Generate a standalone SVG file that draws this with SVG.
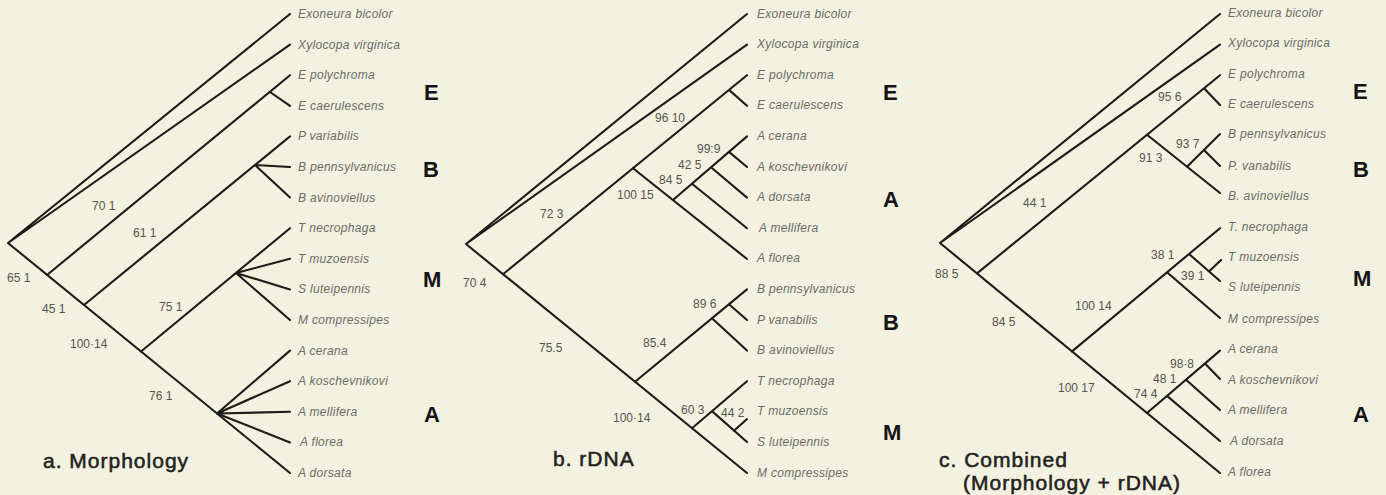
<svg xmlns="http://www.w3.org/2000/svg" width="1386" height="495" viewBox="0 0 1386 495">
<style>
.br{fill:none;stroke:#1c1c18;stroke-width:2.1;stroke-linecap:round;stroke-linejoin:round}
.sp{font-family:"Liberation Sans",Arial,sans-serif;font-style:italic;font-size:12px;fill:#6c6c68;letter-spacing:0.3px;white-space:pre}
.nm{font-family:"Liberation Sans",Arial,sans-serif;font-size:12px;fill:#56564f}
.cl{font-family:"Liberation Sans",Arial,sans-serif;font-weight:bold;font-size:22px;fill:#141414}
.tt{font-family:"Liberation Sans",Arial,sans-serif;font-size:21px;fill:#222220;stroke:#222220;stroke-width:0.55px;letter-spacing:1px;white-space:pre}
</style>
<rect width="1386" height="495" fill="#f3f1df"/>
<g id="connectors" class="br">
<path d="M8,243 L290,14 M8,243 L290,44.6 M8,243 L290,473"/>
<path d="M47,275 L290,75.2 M270,92 L290,105.8"/>
<path d="M84,305 L290,136.4 M255,165 L290,167 M255,165 L290,197.6"/>
<path d="M141,351.5 L290,228.2 M236,273 L290,258.8 M236,273 L290,289.4 M236,273 L290,320"/>
<path d="M217,413.5 L290,350.6 M217,413.5 L290,381.2 M217,413.5 L290,411.8 M217,413.5 L290,442.4"/>
<path d="M466,244 L747,14 M466,244 L747,44.6 M466,244 L747,473"/>
<path d="M503,274.2 L747,75.2 M729,89.9 L747,105.8"/>
<path d="M633,168.2 L747,259 M673,200 L747,136.4 M692,183.7 L747,228.2 M711,167.3 L747,197.6 M729,151.9 L747,167"/>
<path d="M635,381.7 L747,289.4 M712,318.3 L747,350.6 M729,304.2 L747,320"/>
<path d="M692,428.2 L747,381.2 M712,411.1 L747,442 M734,430.8 L747,419"/>
<path d="M940,243 L1220,14 M940,243 L1220,44.6 M940,243 L1220,473"/>
<path d="M977,273.4 L1220,75.2 M1204,88.3 L1220,105"/>
<path d="M1147,134.8 L1220,193 M1187,166.7 L1220,134 M1204,150 L1220,166"/>
<path d="M1072,351.4 L1220,228.2 M1167,272.3 L1220,318 M1189,254 L1220,281 M1209,271.4 L1221,260"/>
<path d="M1147,413 L1220,350.6 M1167,395.9 L1220,441 M1186,379.7 L1220,410 M1205,363.4 L1220,379"/>
</g>
<g id="support-labels" class="nm">
<text x="92" y="210">70 1</text>
<text x="133" y="237">61 1</text>
<text x="7" y="282">65 1</text>
<text x="42" y="313">45 1</text>
<text x="70" y="348">100·14</text>
<text x="159" y="311">75 1</text>
<text x="149" y="400">76 1</text>
<text x="655" y="122">96 10</text>
<text x="540" y="218">72 3</text>
<text x="697" y="153">99:9</text>
<text x="678" y="169">42 5</text>
<text x="659" y="184">84 5</text>
<text x="617" y="199">100 15</text>
<text x="463" y="287">70 4</text>
<text x="539" y="352">75.5</text>
<text x="643" y="347">85.4</text>
<text x="693" y="308">89 6</text>
<text x="613" y="422">100·14</text>
<text x="681" y="414">60 3</text>
<text x="721" y="417">44 2</text>
<text x="1158" y="101">95 6</text>
<text x="1176" y="148">93 7</text>
<text x="1139" y="162">91 3</text>
<text x="1023" y="207">44 1</text>
<text x="935" y="278">88 5</text>
<text x="992" y="326">84 5</text>
<text x="1075" y="310">100 14</text>
<text x="1151" y="259">38 1</text>
<text x="1181" y="280">39 1</text>
<text x="1170" y="368">98·8</text>
<text x="1153" y="383">48 1</text>
<text x="1134" y="398">74 4</text>
<text x="1058" y="392">100 17</text>
</g>
<g id="panel-a-taxa" class="sp" xml:space="preserve">
<g id="a-exoneura"><text x="298" y="18">Exoneura bicolor</text></g>
<g id="a-xylocopa"><text x="298" y="48.6">Xylocopa virginica</text></g>
<g id="a-epoly"><text x="298" y="79.2">E  polychroma</text></g>
<g id="a-ecaer"><text x="298" y="109.8">E  caerulescens</text></g>
<g id="a-pvar"><text x="298" y="140.4">P  variabilis</text></g>
<g id="a-bpenn"><text x="298" y="171">B  pennsylvanicus</text></g>
<g id="a-bavin"><text x="298" y="201.6">B  avinoviellus</text></g>
<g id="a-tnec"><text x="298" y="232.2">T  necrophaga</text></g>
<g id="a-tmuz"><text x="298" y="262.8">T  muzoensis</text></g>
<g id="a-slut"><text x="298" y="293.4">S  luteipennis</text></g>
<g id="a-mcomp"><text x="298" y="324">M  compressipes</text></g>
<g id="a-acer"><text x="298" y="354.6">A  cerana</text></g>
<g id="a-akos"><text x="298" y="385.2">A  koschevnikovi</text></g>
<g id="a-amel"><text x="298" y="415.8">A  mellifera</text></g>
<g id="a-aflo"><text x="300" y="446.4">A  florea</text></g>
<g id="a-ador"><text x="298" y="477">A  dorsata</text></g>
</g>
<g id="panel-b-taxa" class="sp" xml:space="preserve">
<g id="b-exoneura"><text x="757" y="17.5">Exoneura bicolor</text></g>
<g id="b-xylocopa"><text x="757" y="48.1">Xylocopa virginica</text></g>
<g id="b-epoly"><text x="757" y="78.7">E  polychroma</text></g>
<g id="b-ecaer"><text x="757" y="109.3">E  caerulescens</text></g>
<g id="b-acer"><text x="757" y="139.9">A  cerana</text></g>
<g id="b-akos"><text x="757" y="170.5">A  koschevnikovi</text></g>
<g id="b-ador"><text x="757" y="201.1">A  dorsata</text></g>
<g id="b-amel"><text x="759" y="231.7">A  mellifera</text></g>
<g id="b-aflo"><text x="757" y="262.3">A  florea</text></g>
<g id="b-bpenn"><text x="757" y="292.9">B  pennsylvanicus</text></g>
<g id="b-pvar"><text x="757" y="323.5">P  vanabilis</text></g>
<g id="b-bavin"><text x="757" y="354.1">B  avinoviellus</text></g>
<g id="b-tnec"><text x="757" y="384.7">T  necrophaga</text></g>
<g id="b-tmuz"><text x="757" y="415.3">T  muzoensis</text></g>
<g id="b-slut"><text x="757" y="445.9">S  luteipennis</text></g>
<g id="b-mcomp"><text x="757" y="476.5">M  compressipes</text></g>
</g>
<g id="panel-c-taxa" class="sp" xml:space="preserve">
<g id="c-exoneura"><text x="1228" y="16.5">Exoneura bicolor</text></g>
<g id="c-xylocopa"><text x="1228" y="47.1">Xylocopa virginica</text></g>
<g id="c-epoly"><text x="1228" y="77.7">E  polychroma</text></g>
<g id="c-ecaer"><text x="1228" y="108.3">E  caerulescens</text></g>
<g id="c-bpenn"><text x="1228" y="138.4">B  pennsylvanicus</text></g>
<g id="c-pvar"><text x="1228" y="169.5">P. vanabilis</text></g>
<g id="c-bavin"><text x="1228" y="200.1">B. avinoviellus</text></g>
<g id="c-tnec"><text x="1228" y="230.7">T. necrophaga</text></g>
<g id="c-tmuz"><text x="1228" y="261.3">T  muzoensis</text></g>
<g id="c-slut"><text x="1228" y="291.4">S  luteipennis</text></g>
<g id="c-mcomp"><text x="1228" y="322.5">M  compressipes</text></g>
<g id="c-acer"><text x="1228" y="353.1">A  cerana</text></g>
<g id="c-akos"><text x="1228" y="383.7">A  koschevnikovi</text></g>
<g id="c-amel"><text x="1228" y="414.3">A  mellifera</text></g>
<g id="c-ador"><text x="1230" y="444.9">A  dorsata</text></g>
<g id="c-aflo"><text x="1228" y="475.5">A  florea</text></g>
</g>
<g id="clade-letters" class="cl">
<g id="a-clade-E"><text x="424" y="100">E</text></g>
<g id="a-clade-B"><text x="423" y="177">B</text></g>
<g id="a-clade-M"><text x="423" y="287">M</text></g>
<g id="a-clade-A"><text x="424" y="422">A</text></g>
<g id="b-clade-E"><text x="883" y="100">E</text></g>
<g id="b-clade-A"><text x="883" y="207">A</text></g>
<g id="b-clade-B"><text x="883" y="330">B</text></g>
<g id="b-clade-M"><text x="883" y="440">M</text></g>
<g id="c-clade-E"><text x="1353" y="99">E</text></g>
<g id="c-clade-B"><text x="1353" y="177">B</text></g>
<g id="c-clade-M"><text x="1353" y="286">M</text></g>
<g id="c-clade-A"><text x="1353" y="422">A</text></g>
</g>
<g id="panel-titles" class="tt" xml:space="preserve">
<g id="title-a"><text x="43" y="468">a. Morphology</text></g>
<g id="title-b"><text x="553" y="466">b. rDNA</text></g>
<g id="title-c"><text x="939" y="467">c. Combined</text><text x="963" y="490">(Morphology + rDNA)</text></g>
</g>
</svg>
